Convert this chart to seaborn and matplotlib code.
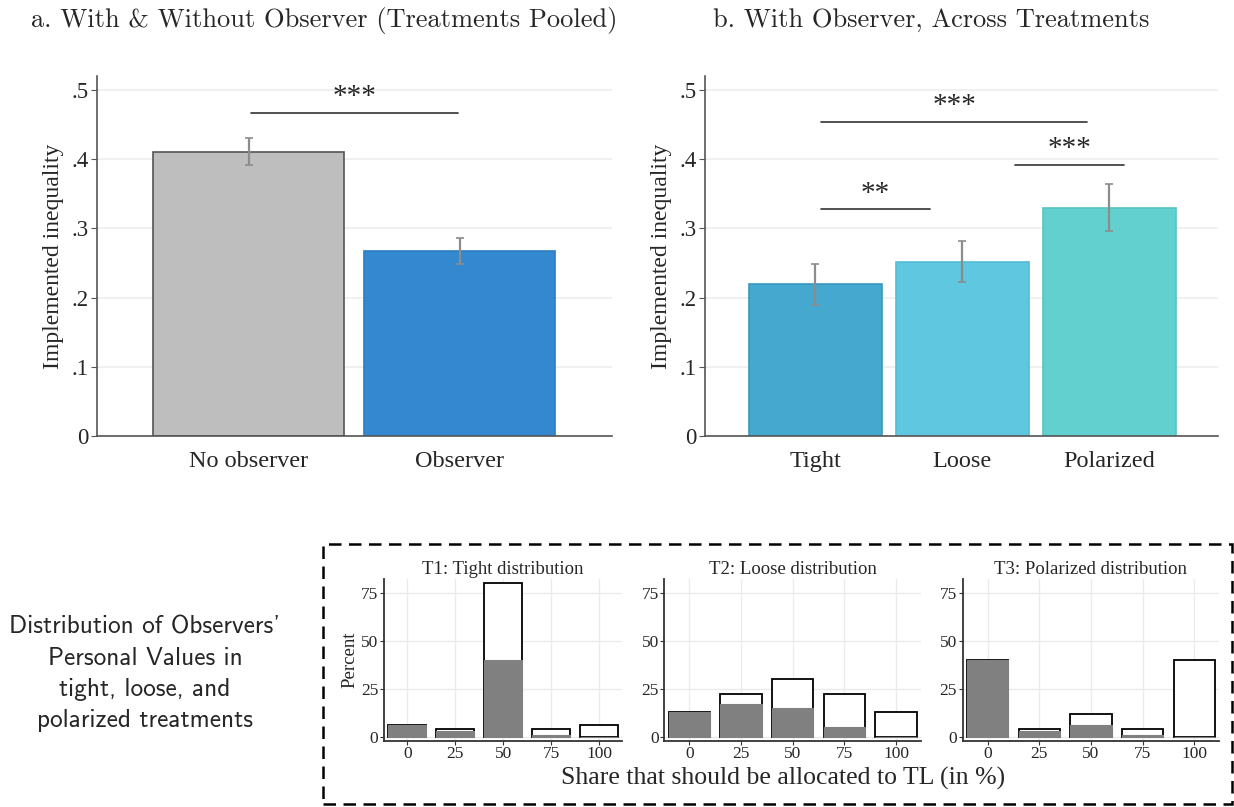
import numpy as np
import pandas as pd
import matplotlib
matplotlib.use('Agg')
import matplotlib.pyplot as plt
import matplotlib.patches as mpatches
from matplotlib.ticker import FuncFormatter
import seaborn as sns

# --- dados ---
grupos_a = ['No observer', 'Observer']
media_a = [0.411, 0.267]
erro_a = [0.020, 0.019]
cores_a = ['#BEBEBE', '#3388D0']
bordas_a = ['#555555', '#2C7CC2']

grupos_b = ['Tight', 'Loose', 'Polarized']
media_b = [0.219, 0.252, 0.330]
erro_b = [0.030, 0.030, 0.034]
cores_b = ['#45A8CF', '#5FC8E0', '#62D0CE']
bordas_b = ['#3A98C0', '#52BCD6', '#56C4C1']

# linhas de significancia: (x0, x1, y, rotulo)
sig_a = [(0.01, 0.99, 0.467, '***')]
sig_b = [(0.04, 1.85, 0.454, '***'),
         (1.36, 2.10, 0.392, '***'),
         (0.04, 0.78, 0.328, '**')]

partilha = [0, 25, 50, 75, 100]
titulos_t = ['T1: Tight distribution', 'T2: Loose distribution', 'T3: Polarized distribution']
total_t = [[6, 4, 80, 4, 6],
           [13, 22, 30, 22, 13],
           [40, 4, 12, 4, 40]]
cinza_t = [[6, 3, 40, 1, 0],
           [13, 17, 15, 5, 0],
           [40, 3, 6, 1, 0]]

texto_lateral = "Distribution of Observers'\nPersonal Values in\ntight, loose, and\npolarized treatments"

# --- estilo ---
sns.set_style('white')
plt.rcParams['font.family'] = ['Liberation Serif', 'DejaVu Serif']
plt.rcParams['axes.unicode_minus'] = False

fig = plt.figure(figsize=(12.34, 8.07), dpi=100)

fmt_ponto = FuncFormatter(lambda v, p: '0' if abs(v) < 1e-9 else ('%.1f' % v).lstrip('0'))


def painel_barras(ax, grupos, medias, erros, cores, bordas, sigs, xlim):
    df = pd.DataFrame({'grupo': grupos, 'valor': medias})
    sns.barplot(data=df, x='grupo', y='valor', hue='grupo', palette=cores,
                width=0.905, errorbar=None, legend=False, ax=ax, saturation=1)
    for barra, borda in zip(ax.patches, bordas):
        barra.set_edgecolor(borda)
        barra.set_linewidth(1.2)
    ax.errorbar(range(len(grupos)), medias, yerr=erros, fmt='none',
                ecolor='#8C8C8C', elinewidth=1.6, capsize=3, capthick=1.2)
    for x0, x1, y, rot in sigs:
        ax.plot([x0, x1], [y, y], color='#333333', lw=1.2)
        ax.text((x0 + x1) / 2, y + 0.012, rot, ha='center', va='baseline', fontsize=21)
    ax.set_ylim(0, 0.52)
    ax.set_xlim(*xlim)
    ax.set_yticks([0, 0.1, 0.2, 0.3, 0.4, 0.5])
    ax.yaxis.set_major_formatter(fmt_ponto)
    ax.grid(axis='y', color='#EDEDED', lw=1.2)
    ax.set_axisbelow(True)
    ax.set_xlabel('')
    ax.set_ylabel('Implemented inequality', fontsize=17, labelpad=5)
    ax.tick_params(axis='y', labelsize=16.5, left=True, length=4, color='#555555', pad=2)
    ax.tick_params(axis='x', labelsize=17.5, bottom=False, pad=7)
    for lado in ['top', 'right']:
        ax.spines[lado].set_visible(False)
    for lado in ['left', 'bottom']:
        ax.spines[lado].set_color('#555555')
        ax.spines[lado].set_linewidth(1.2)


ax_a = fig.add_axes([0.0786, 0.4597, 0.4173, 0.446])
painel_barras(ax_a, grupos_a, media_a, erro_a, cores_a, bordas_a, sig_a, (-0.72, 1.72))
ax_b = fig.add_axes([0.5713, 0.4597, 0.4157, 0.446])
painel_barras(ax_b, grupos_b, media_b, erro_b, cores_b, bordas_b, sig_b, (-0.75, 2.74))

fig.text(324 / 1234, 1 - 20 / 807, 'a. With & Without Observer (Treatments Pooled)',
         family='cmr10', fontsize=19, ha='center', va='center')
fig.text(931 / 1234, 1 - 20 / 807, 'b. With Observer, Across Treatments',
         family='cmr10', fontsize=19, ha='center', va='center')

# --- distribuicoes dos observadores ---
posicoes = [[0.3112, 0.0822, 0.1929, 0.2],
            [0.5383, 0.0822, 0.2078, 0.2],
            [0.7801, 0.0822, 0.2077, 0.2]]
for i, pos in enumerate(posicoes):
    ax = fig.add_axes(pos)
    sns.barplot(x=partilha, y=total_t[i], native_scale=True, width=0.8, color='white',
                edgecolor='black', linewidth=1.3, errorbar=None, ax=ax, saturation=1)
    sns.barplot(x=partilha, y=cinza_t[i], native_scale=True, width=0.8, color='#808080',
                edgecolor='#808080', linewidth=0.8, errorbar=None, ax=ax, saturation=1)
    ax.set_xlim(-12.1, 111.9)
    ax.set_ylim(-2.1, 82)
    ax.set_xticks(partilha)
    ax.set_yticks([0, 25, 50, 75])
    ax.grid(True, color='#EBEBEB', lw=1.0)
    ax.set_axisbelow(True)
    ax.set_title(titulos_t[i], fontsize=13.5, pad=4)
    ax.set_xlabel('')
    ax.set_ylabel('Percent' if i == 0 else '', fontsize=13.5, labelpad=2)
    ax.tick_params(labelsize=12.5, left=True, bottom=True, length=3, color='#333333', pad=1)
    for lado in ['top', 'right']:
        ax.spines[lado].set_visible(False)
    for lado in ['left', 'bottom']:
        ax.spines[lado].set_color('#333333')
        ax.spines[lado].set_linewidth(1.3)

fig.text(783 / 1234, 1 - 778 / 807, 'Share that should be allocated to TL (in %)',
         fontsize=18.5, ha='center', va='center')
fig.text(145 / 1234, 1 - 674 / 807, texto_lateral, family='cmss10', fontsize=18.2,
         ha='center', va='center', linespacing=1.45)

caixa = mpatches.Rectangle((323 / 1234, 3 / 807), (1232 - 323) / 1234, (804 - 544) / 807,
                           transform=fig.transFigure, fill=False, edgecolor='black',
                           lw=1.8, linestyle=(0, (5, 3)))
fig.patches.append(caixa)

fig.savefig('out.png', dpi=100)
